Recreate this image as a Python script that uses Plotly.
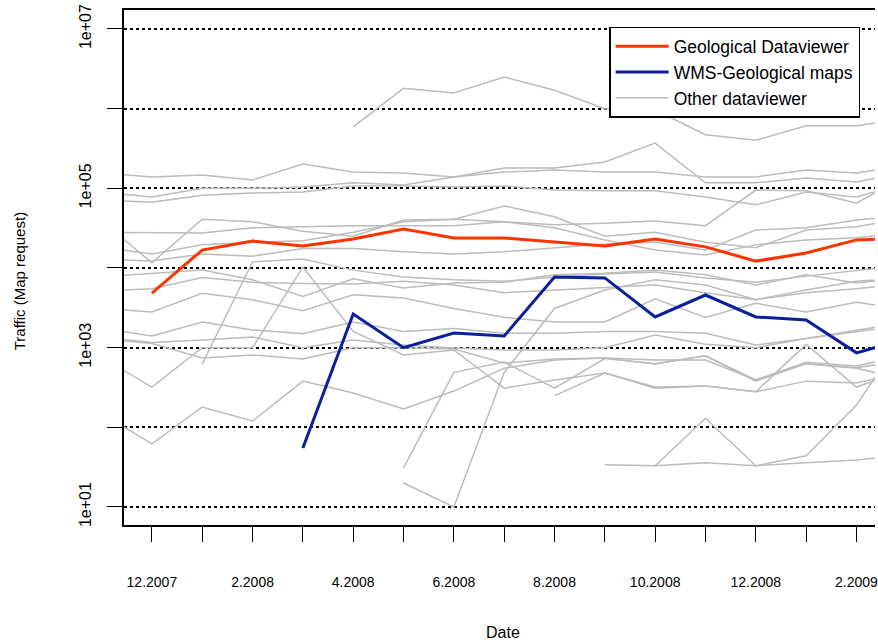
import plotly.graph_objects as go

N = None
months = ["11.2007", "12.2007", "1.2008", "2.2008", "3.2008", "4.2008", "5.2008", "6.2008",
          "7.2008", "8.2008", "9.2008", "10.2008", "11.2008", "12.2008", "1.2009", "2.2009", "3.2009"]
x_tick_labels = ["12.2007", "2.2008", "4.2008", "6.2008", "8.2008", "10.2008", "12.2008", "2.2009"]
y_tick_values = [1e1, 1e2, 1e3, 1e4, 1e5, 1e6, 1e7]
y_tick_labels = ["1e+01", "", "1e+03", "", "1e+05", "", "1e+07"]

geo_viewer = [N, 4850, 16800, 21800, 18900, 23100, 30900, 23800, 23800, 21200, 18900, 23100,
              18400, 12200, 15400, 22500, 23800]
wms_geo_maps = [N, N, N, N, 55, 2650, 1000, 1530, 1400, 7700, 7500, 2430, 4580, 2430, 2230, 860, 1300]

other_01 = [N, N, N, N, N, 5.9e5, 1.8e6, 1.57e6, 2.5e6, 1.7e6, 1.0e6, 9.6e5, 4.7e5, 4.0e5, 6.1e5, 6.1e5, 7.6e5]
other_02 = [1.56e5, 1.39e5, 1.47e5, 1.27e5, 2.02e5, 1.6e5, 1.56e5, 1.39e5, 1.8e5, 1.8e5, 2.14e5, 3.7e5, 1.17e5, 1.17e5, 1.35e5, 1.2e5, 1.6e5]
other_03 = [9.0e4, 7.8e4, 1.0e5, 1.0e5, 1.04e5, 1.17e5, 1.1e5, 1.39e5, 1.6e5, 1.7e5, 1.6e5, 1.6e5, 1.39e5, 1.39e5, 1.7e5, 1.56e5, 1.96e5]
other_04 = [7.1e4, 6.7e4, 8.2e4, 8.7e4, 9.0e4, 1.07e5, 1.07e5, 1.04e5, 1.07e5, 9.5e4, 9.3e4, 9.3e4, 7.8e4, 6.2e4, 9.0e4, 7.8e4, 1.17e5]
other_05 = [2.8e4, 2.75e4, 2.75e4, 3.2e4, 3.3e4, 3.4e4, 3.4e4, 3.4e4, 3.8e4, 3.5e4, 3.65e4, 3.9e4, 3.4e4, 9.5e4, 9.3e4, 6.5e4, 1.47e5]
other_06 = [3.9e4, 1.16e4, 4.1e4, 3.8e4, 2.9e4, 2.5e4, 4.0e4, 4.1e4, 6.0e4, 4.4e4, 2.5e4, 2.8e4, 2.1e4, 1.8e4, 3.0e4, 3.3e4, 4.2e4]
other_07 = [1.83e4, 1.5e4, 1.95e4, 2.1e4, 2.2e4, 2.8e4, 3.8e4, 4.1e4, 3.8e4, 3.2e4, 2.25e4, 1.68e4, 1.46e4, 1.95e4, 2.25e4, 2.4e4, 2.8e4]
other_08 = [1.3e4, 1.22e4, 1.5e4, 1.4e4, 1.75e4, 1.75e4, 1.6e4, 1.5e4, 1.6e4, 1.8e4, 2.0e4, 2.1e4, 1.68e4, 3.0e4, 3.2e4, 4.0e4, 4.6e4]
other_09 = [7.8e3, 8.6e3, 9.4e3, 7.1e3, 4.4e3, 7.3e3, 5.6e3, 6.5e3, 6.6e3, 8.2e3, 8.6e3, 9.4e3, 8.2e3, 6.1e3, 8.2e3, 6.5e3, 7.5e3]
other_10 = [5.1e3, 5.5e3, 7.6e3, 6.6e3, 6.4e3, 6.3e3, 6.8e3, 6.1e3, 4.9e3, 5.3e3, 5.7e3, 6.1e3, 4.9e3, 4.0e3, 4.9e3, 5.5e3, 6.4e3]
other_11 = [3.1e3, 2.8e3, 4.8e3, 4.0e3, 2.9e3, 4.6e3, 4.2e3, 3.1e3, 2.4e3, 2.1e3, 2.1e3, 4.1e3, 2.4e3, 3.6e3, 2.8e3, 3.7e3, 3.0e3]
other_12 = [1740, 1400, 2100, 1670, 1500, 2100, 1600, 1740, 1520, 1520, 1600, 1600, 1520, 1080, 1300, 1600, 1930]
other_13 = [1360, 1160, 1250, 1360, 1000, 1250, 1080, 990, 935, 935, 1000, 1440, 1100, 1000, 1300, 1670, 2100]
other_14 = [1280, 1130, 740, 810, 720, 1000, 1000, 960, 640, 720, 740, 625, 790, 393, 630, 560, 700]
other_15 = [760, 320, 1000, 1000, 10300, 1600, 810, 935, 310, 393, 480, 320, 330, 280, 380, 360, 500]
other_16 = [150, 62, 180, 120, 380, 270, 170, 285, 550, 700, 740, 700, 700, 393, 655, 590, 810]
other_17 = [N, N, 620, 11900, 13000, 9400, 7700, 7100, 6800, 7700, 8400, 8900, 7500, 6600, 7900, 9400, 10900]
other_18 = [N, N, N, N, N, N, 31, 490, 660, 310, 730, 630, 790, 380, 630, 550, 393]
other_19 = [N, N, N, N, N, N, 20, 10, 490, 3100, 5300, 7100, 6100, 4000, 5300, 6800, 7600]
other_20 = [N, N, N, N, N, N, N, N, N, N, 34, 33, 36, 33, 36, 39, 45]
other_21 = [N, N, N, N, N, N, N, N, N, N, N, 33, 130, 33, 44, 190, 1670]
other_22 = [N, N, N, N, N, N, N, N, N, 250, 480, 310, 330, 280, 1100, 320, 535]

others = [other_01, other_02, other_03, other_04, other_05, other_06, other_07, other_08,
          other_09, other_10, other_11, other_12, other_13, other_14, other_15, other_16,
          other_17, other_18, other_19, other_20, other_21, other_22]

x_idx = list(range(len(months)))
FONT = "Liberation Sans, Arial, Helvetica, sans-serif"

fig = go.Figure()
for i, series in enumerate(others):
    fig.add_trace(go.Scatter(
        x=x_idx, y=series, mode="lines", connectgaps=False,
        line=dict(color="#bcbcbc", width=1.5),
        name="Other dataviewer", legendgroup="other", showlegend=(i == 0),
        legendrank=3, hoverinfo="skip"))

fig.add_trace(go.Scatter(x=x_idx, y=geo_viewer, mode="lines", name="Geological Dataviewer",
                         line=dict(color="#ff3300", width=3), legendrank=1))
fig.add_trace(go.Scatter(x=x_idx, y=wms_geo_maps, mode="lines", name="WMS-Geological maps",
                         line=dict(color="#0a1f9c", width=3), legendrank=2))

tickvals_x = x_idx[1:]
ticktext_x = [months[i] if months[i] in x_tick_labels else "" for i in tickvals_x]

fig.update_layout(
    width=878, height=643,
    margin=dict(l=124, r=0, t=10, b=118, pad=0),
    paper_bgcolor="white", plot_bgcolor="white",
    font=dict(family=FONT, color="black"),
    showlegend=True,
    legend=dict(x=0.646, y=0.967, xanchor="left", yanchor="top",
                bgcolor="white", bordercolor="black", borderwidth=1.5,
                font=dict(size=17.5, family=FONT), itemwidth=53,
                tracegroupgap=0),
    xaxis=dict(range=[0.446, 15.368], tickvals=tickvals_x, ticktext=ticktext_x,
               ticks="outside", ticklen=15, tickwidth=1, tickcolor="black",
               showline=True, mirror=True, linecolor="black", linewidth=1.5,
               showgrid=False, zeroline=False, tickfont=dict(size=14),
               ticklabelstandoff=28, ticklabeloverflow="allow"),
    yaxis=dict(type="log", range=[0.774, 7.238], tickvals=y_tick_values, ticktext=y_tick_labels,
               tickangle=-90, ticks="outside", ticklen=15, tickwidth=1, tickcolor="black",
               showline=True, mirror=False, linecolor="black", linewidth=1.5,
               showgrid=True, gridcolor="black", gridwidth=1.5, griddash="3px,3px",
               zeroline=False, tickfont=dict(size=16), ticklabelstandoff=10),
    annotations=[
        dict(text="Traffic (Map request)", xref="paper", yref="paper", x=-0.138, y=0.474,
             textangle=-90, showarrow=False, font=dict(size=15), xanchor="center", yanchor="middle"),
        dict(text="Date", xref="paper", yref="paper", x=0.505, y=-0.2097,
             showarrow=False, font=dict(size=16), xanchor="center", yanchor="middle"),
    ],
)

fig.write_html("out.html")
